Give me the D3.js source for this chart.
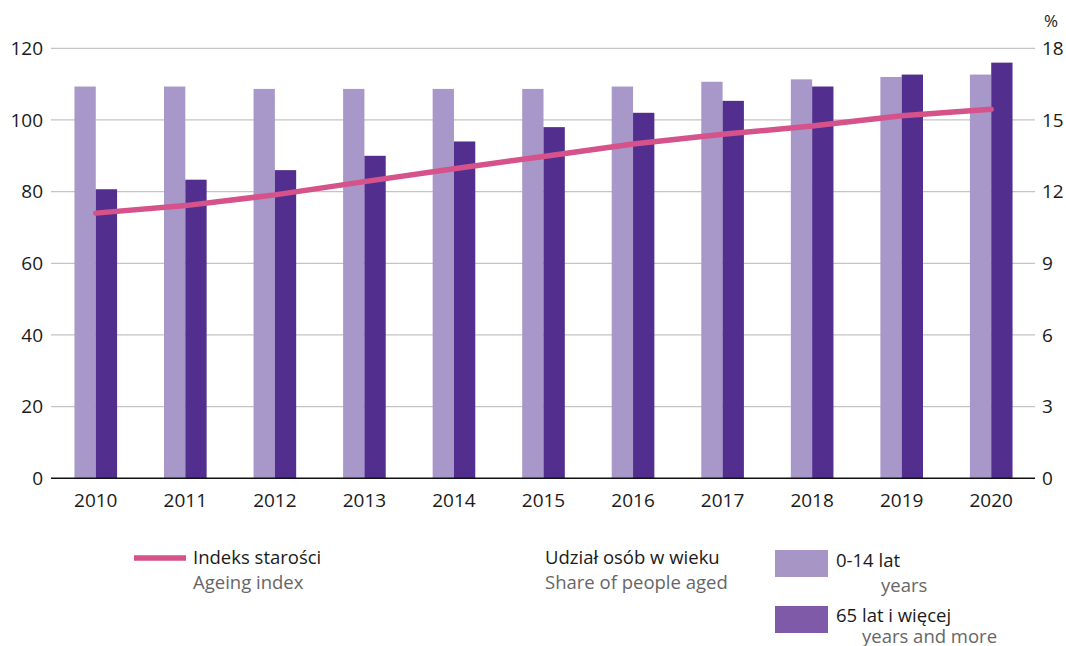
<!DOCTYPE html>
<html><head><meta charset="utf-8">
<script src="https://cdn.jsdelivr.net/npm/d3@7"></script>
<style>body{margin:0;background:#fff}svg{display:block}text{font-family:"Open Sans",sans-serif}</style>
</head><body><svg id="c" width="1066" height="646"></svg>
<script>
const years = ["2010","2011","2012","2013","2014","2015","2016","2017","2018","2019","2020"];
const share0_14 = [16.4,16.4,16.3,16.3,16.3,16.3,16.4,16.6,16.7,16.8,16.9];
const share65 = [12.1,12.5,12.9,13.5,14.1,14.7,15.3,15.8,16.4,16.9,17.4];
const ageingIndex = [74.0,76.1,79.1,82.8,86.4,89.8,93.3,96.0,98.3,101.2,103.0];
const leftTicks = [0,20,40,60,80,100,120];
const rightTicks = [0,3,6,9,12,15,18];

const svg = d3.select("#c");
const L = 51, R = 1036, T = 48.3, B = 478.3;
const x0 = d3.scaleBand().domain(years).range([L, R]).paddingInner(0.524).paddingOuter(0.262);
const x1 = d3.scaleBand().domain(["a","b"]).range([0, x0.bandwidth()]);
const yL = d3.scaleLinear().domain([0,120]).range([B, T]);
const yR = d3.scaleLinear().domain([0,18]).range([B, T]);

// gridlines
svg.append("g").selectAll("line").data(leftTicks.slice(1)).join("line")
  .attr("x1", L).attr("x2", R-1).attr("y1", d=>yL(d)).attr("y2", d=>yL(d))
  .attr("stroke", "#c4c4c4").attr("stroke-width", 1.3);

// left labels
svg.append("g").selectAll("text").data(leftTicks).join("text")
  .attr("x", 43).attr("y", d=>yL(d)).attr("dy","0.36em").attr("text-anchor","end")
  .attr("font-size", 19).attr("fill", "#1a1a1a").text(d=>d);
// right labels
svg.append("g").selectAll("text").data(rightTicks).join("text")
  .attr("x", 1042).attr("y", d=>yR(d)).attr("dy","0.36em")
  .attr("font-size", 19).attr("fill", "#1a1a1a").text(d=>d);
svg.append("text").attr("x", 1044).attr("y", 27).attr("font-size", 17).attr("fill","#1a1a1a").text("%");

// bars
const g = svg.append("g").selectAll("g").data(years).join("g")
  .attr("transform", d=>`translate(${x0(d)},0)`);
g.append("rect").attr("x", x1("a")).attr("width", x1.bandwidth())
  .attr("y", (d,i)=>yR(share0_14[i])).attr("height", (d,i)=>B - yR(share0_14[i]))
  .attr("fill", "#a898c9");
g.append("rect").attr("x", x1("b")).attr("width", x1.bandwidth())
  .attr("y", (d,i)=>yR(share65[i])).attr("height", (d,i)=>B - yR(share65[i]))
  .attr("fill", "#522e8e");

// baseline
svg.append("line").attr("x1", L).attr("x2", R-1).attr("y1", B).attr("y2", B)
  .attr("stroke", "#111").attr("stroke-width", 1.6);

// year labels
svg.append("g").selectAll("text").data(years).join("text")
  .attr("x", d=>x0(d)+x0.bandwidth()/2).attr("y", 507).attr("text-anchor","middle")
  .attr("font-size", 19).attr("fill", "#1a1a1a").text(d=>d);

// line
const line = d3.line().x((d,i)=>x0(years[i])+x0.bandwidth()/2).y(d=>yL(d));
svg.append("path").datum(ageingIndex).attr("d", line).attr("fill","none")
  .attr("stroke", "#d5528a").attr("stroke-width", 5.5).attr("stroke-linecap","round").attr("stroke-linejoin","round");

// legend
const lg = svg.append("g");
lg.append("line").attr("x1",134).attr("x2",186).attr("y1",558).attr("y2",558).attr("stroke","#d5528a").attr("stroke-width",5.5);
lg.append("text").attr("x",193).attr("y",564).attr("font-size",18.5).attr("fill","#1a1a1a").text("Indeks starości");
lg.append("text").attr("x",193).attr("y",589).attr("font-size",18.5).attr("fill","#666").text("Ageing index");
lg.append("text").attr("x",545).attr("y",564).attr("font-size",18.5).attr("fill","#1a1a1a").text("Udział osób w wieku");
lg.append("text").attr("x",545).attr("y",589).attr("font-size",18.5).attr("fill","#666").text("Share of people aged");
lg.append("rect").attr("x",775).attr("y",550).attr("width",53).attr("height",27).attr("fill","#a796c5");
lg.append("rect").attr("x",775).attr("y",606).attr("width",53).attr("height",27).attr("fill","#7f5aa8");
lg.append("text").attr("x",836).attr("y",567).attr("font-size",18.5).attr("fill","#1a1a1a").text("0-14 lat");
lg.append("text").attr("x",881).attr("y",592).attr("font-size",18.5).attr("fill","#666").text("years");
lg.append("text").attr("x",836).attr("y",622).attr("font-size",18.5).attr("fill","#1a1a1a").text("65 lat i więcej");
lg.append("text").attr("x",862).attr("y",643).attr("font-size",18.5).attr("fill","#666").text("years and more");
</script></body></html>
